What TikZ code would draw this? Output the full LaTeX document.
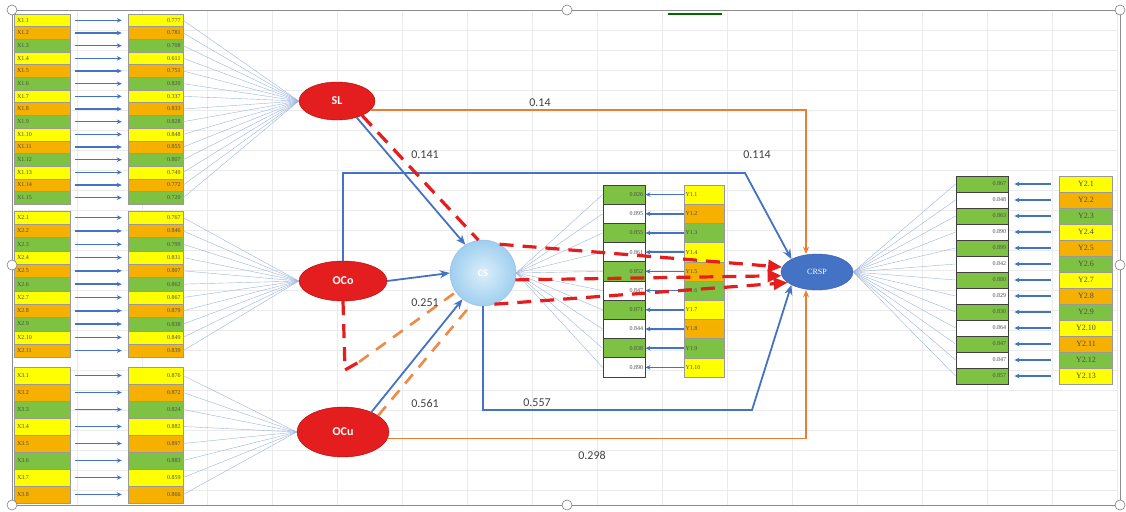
\documentclass[tikz,border=0pt]{standalone}
\usepackage{fontspec}
\setmainfont{Carlito}
\newfontfamily\cellfont{Liberation Serif}
\usetikzlibrary{arrows.meta,shapes.geometric,positioning}

\definecolor{cellY}{HTML}{FFFF00}
\definecolor{cellO}{HTML}{F5B000}
\definecolor{cellG}{HTML}{7DC242}
\definecolor{cellW}{HTML}{FFFFFF}
\definecolor{lineB}{HTML}{4472C4}
\definecolor{lineO}{HTML}{ED7D31}
\definecolor{latR}{HTML}{E41E1E}
\definecolor{fanB}{HTML}{9DB3E0}
\definecolor{csB}{HTML}{9ECFF0}

\tikzset{
  itemcell/.style={draw=black!40, fill=#1, inner sep=1.5pt, font=\cellfont\fontsize{6}{6}\selectfont, text=black!70},
  labcell/.style={itemcell=#1, minimum width=56pt, text width=50pt, align=left},
  valcell/.style={itemcell=#1, minimum width=55pt, text width=50pt, align=right},
  ycell/.style={itemcell=#1, draw=black!75, line width=0.9pt, inner sep=1pt},
  itemarrow/.style={draw=lineB, line width=1.5pt, -{Stealth[length=5pt,width=4.5pt]}},
  fanline/.style={draw=fanB, line width=0.4pt},
  latent/.style={ellipse, draw=red!70!black, fill=latR, text=white, inner sep=0pt, font=\bfseries\fontsize{12}{12}\selectfont},
  bpath/.style={draw=lineB, line width=1.8pt, -{Stealth[length=10pt,width=8pt]}},
  opath/.style={draw=lineO, line width=1.2pt, -{Stealth[length=7pt,width=6pt]}},
  rdash/.style={draw=latR, line width=3.2pt, dash pattern=on 14pt off 9pt},
  odash/.style={draw=lineO!90, line width=2.6pt, dash pattern=on 12pt off 9pt},
  coef/.style={font=\fontsize{12}{12}\selectfont, text=black!75},
  gridline/.style={draw=black!8, line width=0.5pt},
  handle/.style={draw=black!50, fill=white, line width=0.6pt}
}

\begin{document}
\begin{tikzpicture}[x=1pt,y=-1pt]
  \useasboundingbox (0,0) rectangle (1126,511);

  % Tabellenraster im Hintergrund
  \foreach \gx in {12,77,...,1118}
    \draw[gridline] (\gx,10) -- (\gx,505);
  \foreach \gy in {10,30,...,505}
    \draw[gridline] (12,\gy) -- (1118,\gy);
  \draw[black!45, line width=0.8pt] (12,10) rectangle (1120,505);
  \draw[green!40!black, line width=1.5pt] (668,14) -- (722,14);

  % latente Variablen
  \node[latent, minimum width=76pt, minimum height=38pt] (SL) at (337,101) {SL};
  \node[latent, minimum width=88pt, minimum height=40pt] (OCo) at (343,281) {OCo};
  \node[latent, minimum width=92pt, minimum height=50pt] (OCu) at (343,432) {OCu};
  \node[circle, minimum size=66pt, draw=lineB!50, inner color=csB!35, outer color=csB,
        text=white, font=\bfseries\fontsize{10}{10}\selectfont] (CS) at (483,273) {CS};
  \node[ellipse, minimum width=72pt, minimum height=36pt, inner sep=0pt, draw=lineB!80!black, fill=lineB,
        text=white, font=\cellfont\fontsize{8}{8}\selectfont] (CRSP) at (817,272) {CRSP};

  % Indikatoren X1
  \foreach \i/\v/\c in {1/0.777/cellY, 2/0.781/cellO, 3/0.708/cellG, 4/0.611/cellY, 5/0.751/cellO,
                        6/0.820/cellG, 7/0.337/cellY, 8/0.833/cellO, 9/0.828/cellG, 10/0.848/cellY,
                        11/0.855/cellO, 12/0.807/cellG, 13/0.749/cellY, 14/0.772/cellO, 15/0.720/cellG}{
    \pgfmathsetmacro\ry{14+(\i-0.5)*12.67}
    \node[labcell=\c, minimum height=12.67pt] (xa\i) at (42,\ry) {X1.\i};
    \node[valcell=\c, minimum height=12.67pt] (xav\i) at (155.5,\ry) {\v};
    \draw[itemarrow] ([xshift=5pt]xa\i.east) -- ([xshift=-6pt]xav\i.west);
    \draw[fanline] (xav\i.east) -- (SL.west);
  }

  % Indikatoren X2
  \foreach \i/\v/\c in {1/0.767/cellY, 2/0.846/cellO, 3/0.799/cellG, 4/0.831/cellY, 5/0.807/cellO,
                        6/0.862/cellG, 7/0.867/cellY, 8/0.879/cellO, 9/0.838/cellG, 10/0.849/cellY,
                        11/0.839/cellO}{
    \pgfmathsetmacro\ry{211+(\i-0.5)*13.3}
    \node[labcell=\c, minimum height=13.3pt] (xb\i) at (42,\ry) {X2.\i};
    \node[valcell=\c, minimum height=13.3pt] (xbv\i) at (155.5,\ry) {\v};
    \draw[itemarrow] ([xshift=5pt]xb\i.east) -- ([xshift=-6pt]xbv\i.west);
    \draw[fanline] (xbv\i.east) -- (OCo.west);
  }

  % Indikatoren X3
  \foreach \i/\v/\c in {1/0.876/cellY, 2/0.872/cellO, 3/0.824/cellG, 4/0.882/cellY, 5/0.897/cellO,
                        6/0.883/cellG, 7/0.859/cellY, 8/0.866/cellO}{
    \pgfmathsetmacro\ry{367+(\i-0.5)*17}
    \node[labcell=\c, minimum height=17pt] (xc\i) at (42,\ry) {X3.\i};
    \node[valcell=\c, minimum height=17pt] (xcv\i) at (155.5,\ry) {\v};
    \draw[itemarrow] ([xshift=5pt]xc\i.east) -- ([xshift=-6pt]xcv\i.west);
    \draw[fanline] (xcv\i.east) -- (OCu.west);
  }

  % Indikatoren Y1
  \foreach \i/\v/\c/\d in {1/0.826/cellG/cellY, 2/0.895/cellW/cellO, 3/0.855/cellG/cellG, 4/0.861/cellW/cellY,
                           5/0.852/cellG/cellO, 6/0.847/cellW/cellG, 7/0.871/cellG/cellY, 8/0.844/cellW/cellO,
                           9/0.838/cellG/cellG, 10/0.890/cellW/cellY}{
    \pgfmathsetmacro\ry{185+(\i-0.5)*19.2}
    \node[ycell=\c, minimum width=42pt, minimum height=19.2pt, text width=38pt, align=right] (ya\i) at (624,\ry) {\v};
    \node[itemcell=\d, minimum width=40pt, minimum height=19.2pt, text width=37pt, align=left] (yal\i) at (704,\ry) {Y1.\i};
    \draw[itemarrow] (yal\i.west) -- (ya\i.east);
    \draw[fanline] (CS.east) -- (ya\i.west);
  }

  % Indikatoren Y2
  \foreach \i/\v/\c/\d in {1/0.867/cellG/cellY, 2/0.848/cellW/cellO, 3/0.863/cellG/cellG, 4/0.890/cellW/cellY,
                           5/0.899/cellG/cellO, 6/0.842/cellW/cellG, 7/0.880/cellG/cellY, 8/0.829/cellW/cellO,
                           9/0.830/cellG/cellG, 10/0.864/cellW/cellY, 11/0.847/cellG/cellO, 12/0.847/cellW/cellG,
                           13/0.857/cellG/cellY}{
    \pgfmathsetmacro\ry{176+(\i-0.5)*16}
    \node[ycell=\c, minimum width=52pt, minimum height=16pt, text width=48pt, align=right] (yb\i) at (982,\ry) {\v};
    \node[itemcell=\d, minimum width=53pt, minimum height=16pt, font=\cellfont\fontsize{8}{8}\selectfont] (ybl\i) at (1086,\ry) {Y2.\i};
    \draw[itemarrow] ([xshift=-8pt]ybl\i.west) -- ([xshift=6pt]yb\i.east);
    \draw[fanline] (CRSP.east) -- (yb\i.west);
  }

  % direkte Pfade
  \coordinate (kOCo) at (745,173);
  \coordinate (kCS) at (752,410);
  \draw[opath] (SL.-15) -| ([xshift=-11pt]CRSP.north);
  \draw[opath] (OCu.-8) -| ([xshift=-11pt]CRSP.south);
  \draw[bpath] (OCo.north) |- (kOCo) -- (CRSP.north west);
  \draw[bpath] (CS.south) |- (kCS) -- (CRSP.south west);
  \draw[bpath] (SL.-40) -- (CS.122);
  \draw[bpath] (OCo.east) -- (CS.west);
  \draw[bpath] (OCu.35) -- (CS.232);

  % Mediationspfade (gestrichelt)
  \coordinate (vTip) at (345,370);
  \draw[odash] (OCu.25) -- (CS.250);
  \draw[rdash] (OCo.south) -- (vTip) -- ++(14,-8) coordinate (vEnd);
  \draw[odash] (vEnd) -- (CS.215);
  \draw[rdash] (SL.-30) -- (CS.98);
  \draw[rdash, -{Triangle[length=14pt,width=12pt]}] (CS.60) -- (CRSP.172);
  \draw[rdash, -{Triangle[length=14pt,width=12pt]}] (CS.-12) -- (CRSP.186);
  \draw[rdash, -{Triangle[length=14pt,width=12pt]}] (CS.-70) -- (CRSP.200);

  % Koeffizienten
  \node[coef] (c14) at (540,103) {0.14};
  \node[coef] (c141) at (425,155) {0.141};
  \node[coef] (c114) at (757,155) {0.114};
  \node[coef] (c251) at (425,303) {0.251};
  \node[coef] (c561) at (425,403) {0.561};
  \node[coef] (c557) at (537,403) {0.557};
  \node[coef] (c298) at (592,455) {0.298};

  % Anfasser des Bildrahmens
  \foreach \hx/\hy in {12/10, 567/10, 1120/10, 12/265, 1120/265, 12/505, 567/505, 1120/505}
    \draw[handle] (\hx,\hy) circle[radius=5pt];
\end{tikzpicture}
\end{document}
